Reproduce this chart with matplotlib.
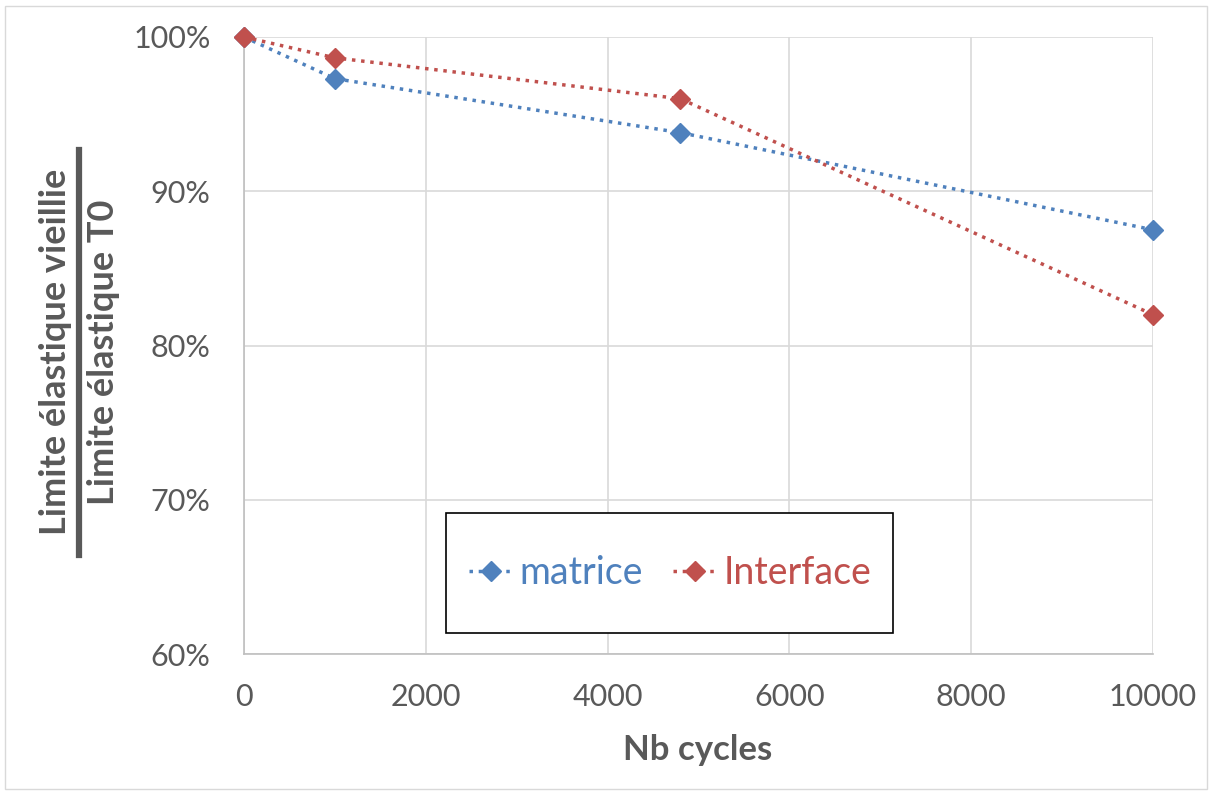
import matplotlib.pyplot as plt
from matplotlib.patches import Rectangle
from matplotlib.lines import Line2D
from matplotlib.ticker import FuncFormatter

plt.rcParams['font.family'] = ['Lato', 'DejaVu Sans']

cycles = [0, 1000, 4800, 10000]
matrice = [100.0, 97.3, 93.8, 87.5]
interface = [100.0, 98.65, 96.0, 82.0]

blue = "#4F81BD"
red = "#C0504D"
grey = "#595959"

fig = plt.figure(figsize=(12.12, 7.92), dpi=100)
ax = fig.add_axes([244/1212, 1-654/792, (1153-244)/1212, (654-37)/792])

ax.plot(cycles, matrice, linestyle=":", color=blue, lw=2.5, marker="D", ms=10, label="matrice", clip_on=False, zorder=3)
ax.plot(cycles, interface, linestyle=":", color=red, lw=2.5, marker="D", ms=10, label="Interface", clip_on=False, zorder=3)

ax.set_xlim(0, 10000)
ax.set_ylim(60, 100)
ax.set_xticks(range(0, 10001, 2000))
ax.set_yticks(range(60, 101, 10))
ax.yaxis.set_major_formatter(FuncFormatter(lambda v, p: f"{v:.0f}%"))
ax.tick_params(length=0, labelsize=22, labelcolor=grey)
ax.tick_params(axis="x", pad=21)
ax.tick_params(axis="y", pad=24)
ax.grid(True, color="#D9D9D9", lw=1.2)
ax.set_axisbelow(True)
for s in ["top", "right"]:
    ax.spines[s].set_visible(False)
for s in ["left", "bottom"]:
    ax.spines[s].set_color("#BFBFBF")
    ax.spines[s].set_linewidth(1.2)

fig.text(698/1212, 1-750/792, "Nb cycles", ha="center", va="center",
         fontsize=25, fontweight="bold", color=grey)

# fraction-style y label
fig.text(56/1212, 1-352/792, "Limite élastique vieillie", rotation=90, ha="center", va="center",
         fontsize=26, fontweight="bold", color=grey)
fig.text(104/1212, 1-352/792, "Limite élastique T0", rotation=90, ha="center", va="center",
         fontsize=26, fontweight="bold", color=grey)
fig.add_artist(Line2D([79/1212, 79/1212], [1-150/792, 1-555/792], color=grey, lw=4.5))

# legend box
fig.add_artist(Rectangle((446/1212, 1-633/792), (893-446)/1212, (633-513)/792,
                         transform=fig.transFigure, fill=True, facecolor="white",
                         edgecolor="black", lw=1.2, zorder=5))
leg = fig.legend(loc="center", bbox_to_anchor=(670/1212, 1-573/792), ncol=2, frameon=False,
                 fontsize=27, labelcolor="linecolor", handlelength=1.2, columnspacing=0.8,
                 handletextpad=0.15)
leg.set_zorder(6)

# outer chart border
fig.add_artist(Rectangle((0.004, 0.004), 0.992, 0.988, transform=fig.transFigure,
                         fill=False, edgecolor="#D9D9D9", lw=1))

fig.savefig("out.png", dpi=100)
